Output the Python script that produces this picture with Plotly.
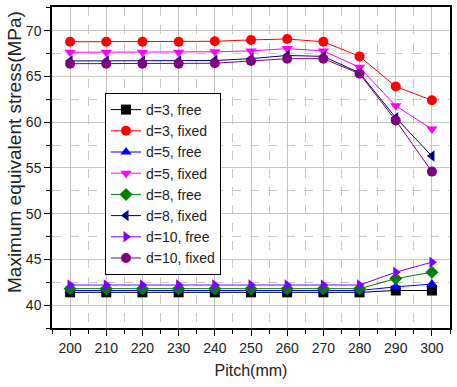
import plotly.graph_objects as go

pitch = [200, 210, 220, 230, 240, 250, 260, 270, 280, 290, 300]

d3_free = [41.4, 41.4, 41.4, 41.4, 41.4, 41.4, 41.4, 41.4, 41.4, 41.6, 41.6]
d3_fixed = [68.8, 68.8, 68.8, 68.8, 68.85, 69.0, 69.1, 68.8, 67.2, 63.9, 62.4]
d5_free = [41.6, 41.6, 41.6, 41.6, 41.6, 41.6, 41.6, 41.6, 41.6, 42.0, 42.3]
d5_fixed = [67.65, 67.65, 67.65, 67.65, 67.7, 67.8, 68.05, 67.8, 66.0, 61.8, 59.25]
d8_free = [41.8, 41.8, 41.8, 41.8, 41.8, 41.8, 41.8, 41.8, 41.8, 42.9, 43.6]
d8_fixed = [66.7, 66.7, 66.7, 66.7, 66.75, 66.95, 67.3, 67.2, 65.4, 60.5, 56.3]
d10_free = [42.2, 42.2, 42.2, 42.2, 42.2, 42.2, 42.2, 42.2, 42.2, 43.6, 44.7]
d10_fixed = [66.4, 66.4, 66.4, 66.4, 66.45, 66.7, 66.95, 66.95, 65.3, 60.2, 54.6]

y_ticks = [40, 45, 50, 55, 60, 65, 70]

series = [
    ("d=3, free", d3_free, "#000000", "square"),
    ("d=3, fixed", d3_fixed, "#ff0000", "circle"),
    ("d=5, free", d5_free, "#0000ff", "triangle-up"),
    ("d=5, fixed", d5_fixed, "#ff00ff", "triangle-down"),
    ("d=8, free", d8_free, "#008000", "diamond"),
    ("d=8, fixed", d8_fixed, "#000080", "triangle-left"),
    ("d=10, free", d10_free, "#8000ff", "triangle-right"),
    ("d=10, fixed", d10_fixed, "#800080", "circle"),
]

FONT = "Liberation Sans, Arial"
W, H = 457, 387
ML, MR, MT, MB = 52, 7, 7, 59
PW, PH = W - ML - MR, H - MT - MB

fig = go.Figure()
for name, vals, col, sym in series:
    fig.add_trace(go.Scatter(
        x=pitch, y=vals, name=name, mode="lines+markers",
        line=dict(color=col, width=1),
        marker=dict(symbol=sym, color=col, size=10, line=dict(width=0)),
    ))

axis_common = dict(
    showline=True, linecolor="black", linewidth=1.5, mirror=True,
    ticks="outside", ticklen=6, tickcolor="black", tickwidth=1,
    showgrid=True, gridcolor="#c4c4c4", gridwidth=1, zeroline=False,
    automargin=False,
    tickfont=dict(family=FONT, size=14, color="#222222"),
)

fig.update_xaxes(
    range=[195, 305], tickmode="array", tickvals=pitch,
    title=dict(text="Pitch(mm)", font=dict(family=FONT, size=16, color="#222222"), standoff=10),
    minor=dict(dtick=5, tick0=195, showgrid=True, gridcolor="#c8c8c8", griddash="dash",
               ticks="outside", ticklen=4, tickcolor="black"),
    **axis_common,
)
fig.update_yaxes(
    range=[37.5, 72.6], tickmode="array", tickvals=y_ticks,
    minor=dict(dtick=2.5, tick0=37.5, showgrid=True, gridcolor="#c8c8c8", griddash="dash",
               ticks="outside", ticklen=4, tickcolor="black"),
    **axis_common,
)

fig.add_annotation(
    text="Maximum equivalent stress(MPa)", textangle=-90,
    xref="paper", yref="paper",
    x=(14 - ML) / PW, y=(H - MB - 152) / PH,
    xanchor="center", yanchor="middle", showarrow=False,
    font=dict(family=FONT, size=19, color="#222222"),
)

fig.update_layout(
    width=W, height=H,
    margin=dict(l=ML, r=MR, t=MT, b=MB),
    plot_bgcolor="white", paper_bgcolor="white",
    legend=dict(
        x=(105 - ML) / PW, y=1 - (93 - MT) / PH, xanchor="left", yanchor="top",
        bgcolor="white", bordercolor="black", borderwidth=1,
        font=dict(family=FONT, size=14, color="#222222"),
        tracegroupgap=0, itemsizing="trace",
    ),
    showlegend=True,
)

fig.write_html("out.html", config={"displayModeBar": False},
               post_script="document.body.style.margin='0px';")
